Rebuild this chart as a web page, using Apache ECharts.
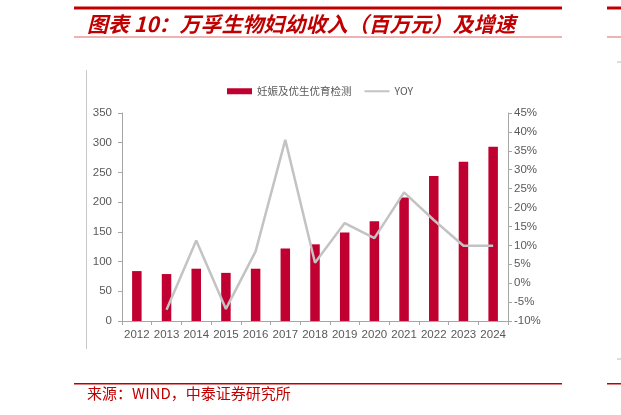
<!DOCTYPE html>
<html lang="zh-CN">
<head>
    <meta charset="UTF-8">
    <title>万孚生物妇幼收入及增速</title>
    <script src="https://cdn.jsdelivr.net/npm/echarts@6/dist/echarts.min.js"></script>
    <style>
        html, body { margin: 0; padding: 0; background: #fff; }
        #chart { width: 621px; height: 415px; }
    </style>
</head>
<body>
    <div id="chart"></div>
    <script>
        // 数据
        var years = ['2012', '2013', '2014', '2015', '2016', '2017', '2018',
                     '2019', '2020', '2021', '2022', '2023', '2024'];
        var revenue = [84, 79, 88, 81, 88, 122, 129, 149, 168, 208, 244, 268, 293];
        var yoy = [null, -7.0, 11.3, -6.8, 8.4, 37.9, 5.4, 15.9, 11.9, 24.0, 16.7, 9.9, 9.9];
        var barName = '妊娠及优生优育检测';
        var lineName = 'YOY';

        var red = '#c00000';
        var axisGray = '#a6a6a6';
        var labelGray = '#595959';

        var chart = echarts.init(document.getElementById('chart'));
        chart.setOption({
            animation: false,
            backgroundColor: '#fff',
            textStyle: { fontFamily: 'Liberation Sans, Arial, sans-serif' },
            legend: {
                top: 81,
                left: 222,
                itemWidth: 25,
                itemHeight: 6,
                itemGap: 12,
                textStyle: { color: labelGray, fontSize: 10.5, fontFamily: 'Noto Sans CJK SC' },
                data: [
                    { name: barName, icon: 'rect' },
                    { name: lineName, itemStyle: { opacity: 0 } }
                ]
            },
            grid: { left: 122, right: 113, top: 113, bottom: 94 },
            xAxis: {
                type: 'category',
                data: years,
                axisLine: { lineStyle: { color: axisGray } },
                axisTick: { show: true, length: 4, lineStyle: { color: axisGray } },
                axisLabel: { color: labelGray, fontSize: 11.5, margin: 8, interval: 0 }
            },
            yAxis: [{
                type: 'value',
                min: 0, max: 350, interval: 50,
                axisLine: { show: true, lineStyle: { color: axisGray } },
                axisTick: { show: true, length: 4, lineStyle: { color: axisGray } },
                axisLabel: { color: labelGray, fontSize: 11.5, margin: 10 },
                splitLine: { show: false }
            }, {
                type: 'value',
                min: -10, max: 45, interval: 5,
                axisLine: { show: true, lineStyle: { color: axisGray } },
                axisTick: { show: true, length: 4, lineStyle: { color: axisGray } },
                axisLabel: { color: labelGray, fontSize: 11.5, margin: 6, formatter: '{value}%' },
                splitLine: { show: false }
            }],
            series: [{
                name: barName,
                type: 'bar',
                data: revenue,
                barWidth: '32%',
                itemStyle: { color: '#c00030' }
            }, {
                name: lineName,
                type: 'line',
                yAxisIndex: 1,
                data: yoy,
                symbol: 'none',
                lineStyle: { color: '#c3c3c3', width: 2.5 },
                itemStyle: { color: '#c3c3c3' }
            }],
            graphic: [
                // 标题线
                { type: 'rect', shape: { x: 74, y: 6.5, width: 488, height: 3 }, style: { fill: red } },
                { type: 'rect', shape: { x: 74, y: 36.5, width: 488, height: 1 }, style: { fill: '#e06666' } },
                {
                    type: 'text', left: 87, top: 14,
                    style: {
                        text: '图表 10：万孚生物妇幼收入（百万元）及增速',
                        fill: red, font: 'italic bold 21px "Noto Sans CJK SC"'
                    }
                },
                // 图框
                { type: 'rect', shape: { x: 86, y: 70, width: 1, height: 279 }, style: { fill: '#c8c8c8' } },
                // 来源
                { type: 'rect', shape: { x: 74, y: 383, width: 488, height: 1.5 }, style: { fill: red } },
                {
                    type: 'text', left: 87, top: 386,
                    style: { text: '来源：WIND，中泰证券研究所', fill: red, font: '15px "Noto Sans CJK SC"' }
                },
                // 右侧相邻图表残边
                { type: 'rect', shape: { x: 607, y: 6.5, width: 14, height: 3 }, style: { fill: red } },
                { type: 'rect', shape: { x: 607, y: 36.5, width: 14, height: 1 }, style: { fill: '#e06666' } },
                { type: 'rect', shape: { x: 617, y: 61.5, width: 4, height: 1 }, style: { fill: '#bbbbbb' } },
                { type: 'rect', shape: { x: 617, y: 358.5, width: 4, height: 1 }, style: { fill: '#bbbbbb' } },
                { type: 'rect', shape: { x: 607, y: 383, width: 14, height: 1.5 }, style: { fill: red } }
            ]
        });
    </script>
</body>
</html>
